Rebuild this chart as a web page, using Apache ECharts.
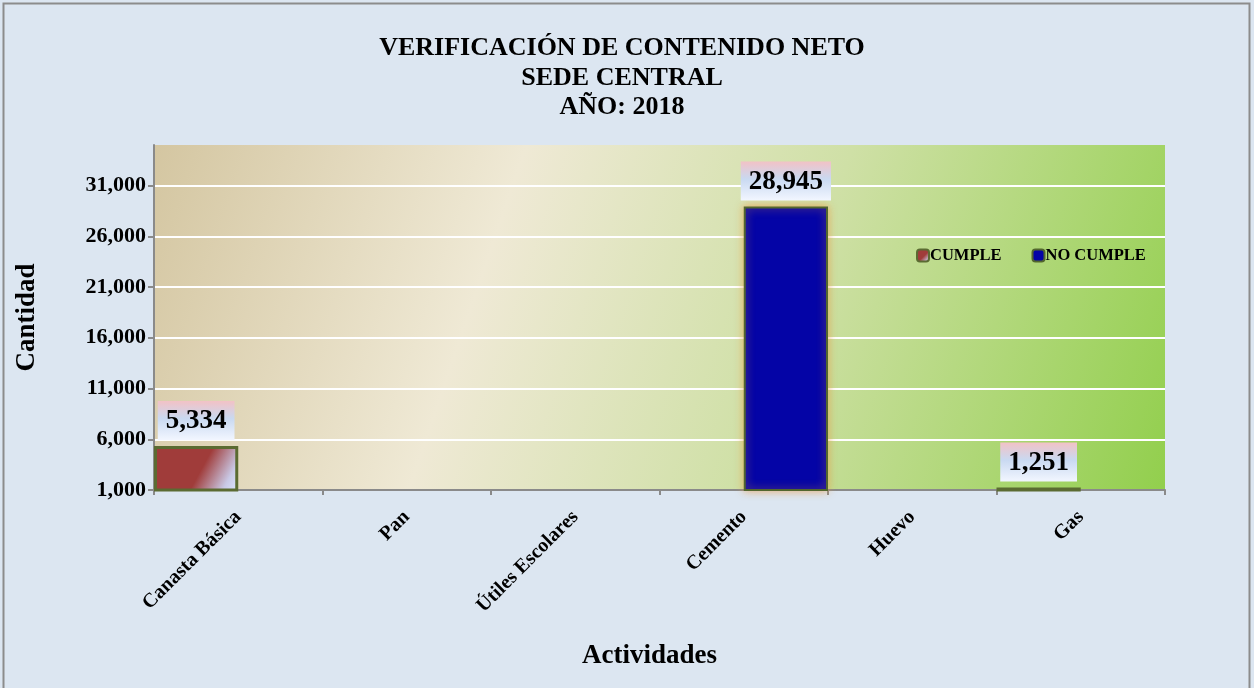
<!DOCTYPE html>
<html>
<head>
<meta charset="utf-8">
<script src="https://cdn.jsdelivr.net/npm/echarts@6/dist/echarts.min.js"></script>
<style>
  html, body { margin: 0; padding: 0; background: #dce6f1; }
  #chart { width: 1254px; height: 688px; }
</style>
</head>
<body>
<div id="chart"></div>
<script>
const categories = ["Canasta Básica", "Pan", "Útiles Escolares", "Cemento", "Huevo", "Gas"];
const cumple = [5334, 0, 0, 0, 0, 1251];
const noCumple = [0, 0, 0, 28945, 0, 0];
const titleLines = ["VERIFICACIÓN DE CONTENIDO NETO", "SEDE CENTRAL", "AÑO: 2018"];

const FONT = "Liberation Serif";
const chart = echarts.init(document.getElementById("chart"));

function fmt(v) {
    return v.toLocaleString("en-US");
}

const labelBg = new echarts.graphic.LinearGradient(0, 0, 0, 1, [
    { offset: 0, color: "#f2c2c6" },
    { offset: 0.45, color: "#c9d9f1" },
    { offset: 1, color: "#f2f6ff" }
]);

function barLabel() {
    return {
        position: "top",
        distance: 6,
        formatter: p => fmt(p.value),
        fontFamily: FONT,
        fontWeight: "bold",
        fontSize: 27,
        color: "#000",
        backgroundColor: labelBg,
        padding: [7, 8, 5, 8]
    };
}

function toData(arr) {
    return arr.map(v => ({ value: v, label: { show: v > 0 } }));
}

const option = {
    backgroundColor: "#dce6f1",
    title: {
        text: titleLines.join("\n"),
        left: 617,
        top: 29,
        textAlign: "center",
        textStyle: {
            fontFamily: FONT,
            fontWeight: "bold",
            fontSize: 26,
            lineHeight: 29.5,
            color: "#000"
        }
    },
    legend: {
        left: 911,
        top: 242,
        itemWidth: 12,
        itemHeight: 12,
        itemGap: 30,
        textStyle: {
            fontFamily: FONT,
            fontWeight: "bold",
            fontSize: 16.5,
            color: "#000",
            padding: [0, 0, 0, -4]
        },
        data: ["CUMPLE", "NO CUMPLE"]
    },
    grid: {
        left: 154,
        right: 89,
        top: 145,
        bottom: 198,
        show: true,
        borderWidth: 0,
        backgroundColor: new echarts.graphic.LinearGradient(0, 0, 1, 1, [
            { offset: 0, color: "#d4c6a1" },
            { offset: 0.33, color: "#efe9d5" },
            { offset: 0.62, color: "#cfe0a6" },
            { offset: 1, color: "#92cf4d" }
        ])
    },
    xAxis: {
        type: "category",
        data: categories,
        name: "Actividades",
        nameLocation: "middle",
        nameGap: 153,
        nameTextStyle: {
            fontFamily: FONT,
            fontWeight: "bold",
            fontSize: 27,
            color: "#000",
            padding: [0, 20, 0, 0]
        },
        axisLine: { lineStyle: { color: "#8a8a8a", width: 2 } },
        axisTick: { show: true, length: 5, lineStyle: { color: "#8a8a8a", width: 2 } },
        axisLabel: {
            rotate: 45,
            margin: 24,
            fontFamily: FONT,
            fontWeight: "bold",
            fontSize: 20,
            color: "#000"
        }
    },
    yAxis: {
        type: "value",
        min: 1000,
        max: 35000,
        interval: 5000,
        name: "Cantidad",
        nameLocation: "middle",
        nameGap: 113,
        nameRotate: 90,
        nameTextStyle: {
            fontFamily: FONT,
            fontWeight: "bold",
            fontSize: 27,
            color: "#000"
        },
        axisLine: { show: true, lineStyle: { color: "#8a8a8a", width: 2 } },
        axisTick: { show: true, length: 6, lineStyle: { color: "#8a8a8a", width: 2 } },
        axisLabel: {
            showMaxLabel: false,
            margin: 8,
            formatter: v => fmt(v),
            fontFamily: FONT,
            fontWeight: "bold",
            fontSize: 22,
            color: "#000"
        },
        splitLine: {
            show: true,
            showMaxLine: false,
            lineStyle: { color: "#ffffff", width: 2 }
        }
    },
    series: [
        {
            name: "CUMPLE",
            type: "bar",
            data: toData(cumple),
            barGap: "0%",
            barCategoryGap: "0%",
            itemStyle: {
                color: new echarts.graphic.LinearGradient(0, 0, 1, 1, [
                    { offset: 0, color: "#a03c3a" },
                    { offset: 0.55, color: "#a03c3a" },
                    { offset: 0.85, color: "#c9c9e6" },
                    { offset: 1, color: "#dde8ff" }
                ]),
                borderColor: "#5b6b32",
                borderWidth: 3
            },
            label: barLabel()
        },
        {
            name: "NO CUMPLE",
            type: "bar",
            data: toData(noCumple),
            itemStyle: {
                color: "#0404a6",
                borderColor: "#52662e",
                borderWidth: 2,
                shadowColor: "rgba(235, 150, 60, 0.7)",
                shadowBlur: 8
            },
            label: barLabel()
        }
    ],
    graphic: [
        {
            type: "rect",
            shape: { x: 3.5, y: 3.5, width: 1246, height: 700 },
            style: { fill: "none", stroke: "#8c8c8c", lineWidth: 2 },
            silent: true
        }
    ],
    animation: false
};

chart.setOption(option);
</script>
</body>
</html>
